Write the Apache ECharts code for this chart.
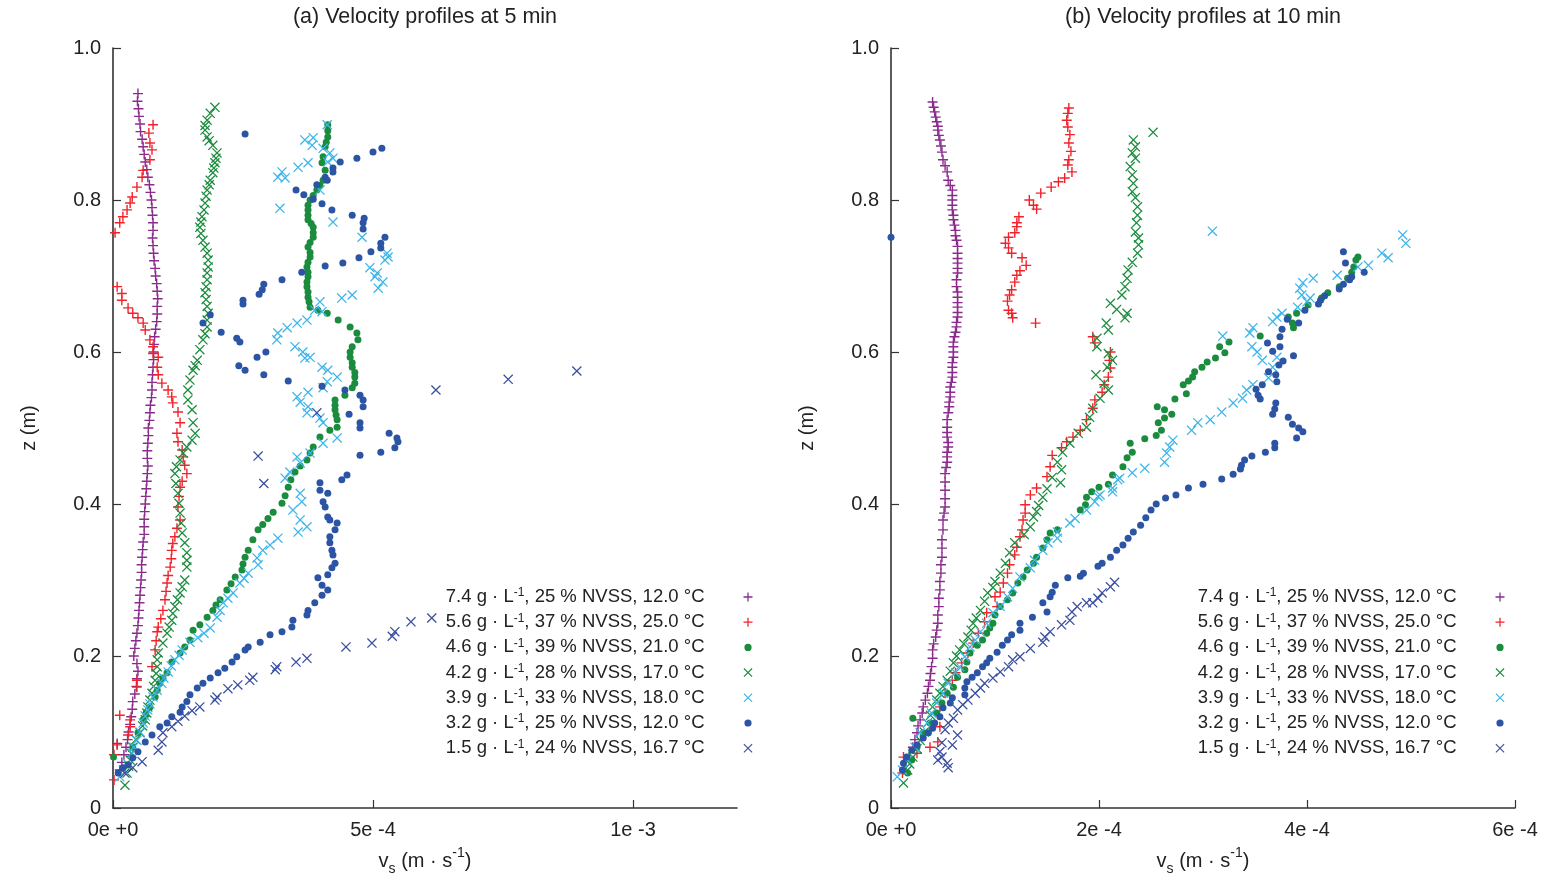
<!DOCTYPE html>
<html><head><meta charset="utf-8">
<script src="https://cdn.jsdelivr.net/npm/echarts@6/dist/echarts.min.js"></script>
<style>html,body{margin:0;padding:0;background:#fff}#c{width:1547px;height:882px}</style>
</head><body><div id="c"></div>
<script>
// x values are in units of 1e-4 m/s, z in m
const seriesNames = [
  '7.4 g · L-1, 25 % NVSS, 12.0 °C',
  '5.6 g · L-1, 37 % NVSS, 25.0 °C',
  '4.6 g · L-1, 39 % NVSS, 21.0 °C',
  '4.2 g · L-1, 28 % NVSS, 17.0 °C',
  '3.9 g · L-1, 33 % NVSS, 18.0 °C',
  '3.2 g · L-1, 25 % NVSS, 12.0 °C',
  '1.5 g · L-1, 24 % NVSS, 16.7 °C'
];
const panelTitles = ['(a) Velocity profiles at 5 min', '(b) Velocity profiles at 10 min'];
const xTicksA = [0, 5, 10];
const xTickLabelsA = ['0e +0', '5e -4', '1e -3'];
const xTicksB = [0, 2, 4, 6];
const xTickLabelsB = ['0e +0', '2e -4', '4e -4', '6e -4'];
const yTicks = [0, 0.2, 0.4, 0.6, 0.8, 1.0];
const yTickLabels = ['0', '0.2', '0.4', '0.6', '0.8', '1.0'];

// ---- Panel (a), 5 min ----
const a74 = [[0.48,0.94],[0.47,0.93],[0.49,0.92],[0.50,0.91],[0.52,0.90],[0.53,0.89],[0.56,0.88],[0.58,0.87],[0.60,0.86],[0.62,0.85],[0.65,0.84],[0.67,0.83],[0.70,0.82],[0.72,0.81],[0.74,0.80],[0.75,0.79],[0.76,0.78],[0.77,0.77],[0.77,0.76],[0.76,0.75],[0.77,0.74],[0.78,0.73],[0.79,0.72],[0.81,0.71],[0.82,0.70],[0.84,0.69],[0.85,0.68],[0.86,0.67],[0.85,0.66],[0.85,0.65],[0.84,0.64],[0.82,0.63],[0.80,0.62],[0.79,0.61],[0.78,0.60],[0.78,0.59],[0.77,0.58],[0.76,0.57],[0.75,0.56],[0.75,0.55],[0.74,0.54],[0.72,0.53],[0.71,0.52],[0.70,0.51],[0.68,0.50],[0.68,0.49],[0.67,0.48],[0.66,0.47],[0.66,0.46],[0.67,0.45],[0.66,0.44],[0.65,0.43],[0.64,0.42],[0.63,0.41],[0.62,0.40],[0.61,0.39],[0.60,0.38],[0.60,0.37],[0.60,0.36],[0.58,0.35],[0.57,0.34],[0.56,0.33],[0.55,0.32],[0.55,0.31],[0.54,0.30],[0.53,0.29],[0.52,0.28],[0.51,0.27],[0.50,0.26],[0.49,0.25],[0.48,0.24],[0.46,0.23],[0.44,0.22],[0.42,0.21],[0.40,0.20],[0.46,0.19],[0.48,0.18],[0.46,0.17],[0.45,0.16],[0.42,0.15],[0.38,0.14],[0.37,0.13],[0.35,0.12],[0.33,0.11],[0.30,0.10],[0.28,0.09],[0.25,0.08],[0.21,0.07],[0.17,0.06],[0.13,0.05],[0.08,0.085]];
const a56 = [[0.77,0.899],[0.69,0.888],[0.71,0.875],[0.75,0.866],[0.71,0.853],[0.58,0.839],[0.56,0.830],[0.46,0.817],[0.37,0.804],[0.33,0.796],[0.27,0.787],[0.19,0.778],[0.13,0.770],[0.04,0.757],[0.08,0.686],[0.17,0.677],[0.17,0.668],[0.29,0.658],[0.38,0.651],[0.48,0.645],[0.58,0.638],[0.62,0.629],[0.71,0.616],[0.77,0.607],[0.77,0.598],[0.87,0.593],[0.85,0.580],[0.87,0.570],[0.94,0.559],[1.06,0.550],[1.13,0.541],[1.15,0.533],[1.25,0.521],[1.29,0.507],[1.23,0.493],[1.25,0.482],[1.33,0.471],[1.35,0.462],[1.38,0.451],[1.42,0.440],[1.33,0.430],[1.29,0.422],[1.27,0.410],[1.25,0.396],[1.29,0.379],[1.23,0.368],[1.19,0.357],[1.15,0.348],[1.13,0.339],[1.12,0.328],[1.10,0.317],[1.06,0.306],[1.04,0.296],[1.02,0.285],[1.00,0.274],[0.96,0.260],[0.92,0.249],[0.87,0.238],[0.85,0.232],[0.83,0.220],[0.81,0.208],[0.75,0.186],[0.46,0.168],[0.46,0.159],[0.13,0.122],[0.33,0.116],[0.33,0.107],[0.29,0.096],[0.08,0.083],[0.02,0.070],[0.02,0.037]];
const a46 = [[4.13,0.899],[4.13,0.891],[4.13,0.883],[4.10,0.876],[4.08,0.870],[4.04,0.857],[4.02,0.849],[4.08,0.839],[4.04,0.826],[3.98,0.819],[3.92,0.813],[3.85,0.806],[3.79,0.800],[3.75,0.793],[3.75,0.787],[3.75,0.780],[3.75,0.774],[3.81,0.769],[3.85,0.764],[3.85,0.757],[3.85,0.751],[3.79,0.744],[3.75,0.738],[3.79,0.731],[3.79,0.725],[3.75,0.718],[3.73,0.712],[3.75,0.705],[3.75,0.699],[3.73,0.692],[3.73,0.686],[3.75,0.679],[3.75,0.672],[3.77,0.666],[3.79,0.659],[3.94,0.655],[4.12,0.651],[4.33,0.642],[4.56,0.633],[4.69,0.625],[4.71,0.616],[4.60,0.607],[4.56,0.600],[4.56,0.593],[4.60,0.586],[4.60,0.580],[4.65,0.573],[4.65,0.567],[4.65,0.559],[4.60,0.553],[4.46,0.543],[4.27,0.537],[4.27,0.530],[4.27,0.524],[4.29,0.517],[4.31,0.511],[4.31,0.501],[4.17,0.497],[3.98,0.488],[3.85,0.475],[3.79,0.467],[3.73,0.458],[3.60,0.450],[3.50,0.442],[3.42,0.432],[3.37,0.422],[3.31,0.411],[3.25,0.401],[3.08,0.389],[2.98,0.381],[2.88,0.373],[2.79,0.366],[2.69,0.353],[2.60,0.339],[2.54,0.330],[2.50,0.321],[2.48,0.313],[2.35,0.304],[2.27,0.295],[2.19,0.287],[2.06,0.274],[1.98,0.267],[1.92,0.260],[1.81,0.251],[1.67,0.241],[1.54,0.234],[1.48,0.221],[1.38,0.212],[1.29,0.204],[1.13,0.192],[1.04,0.178],[0.96,0.171],[0.90,0.164],[0.85,0.155],[0.81,0.146],[0.71,0.133],[0.63,0.124],[0.58,0.116],[0.48,0.099],[0.38,0.080],[0.01,0.067]];
const a42 = [[1.96,0.922],[1.87,0.914],[1.81,0.905],[1.77,0.898],[1.77,0.892],[1.81,0.883],[1.85,0.878],[1.92,0.872],[2.00,0.862],[1.98,0.855],[1.96,0.849],[1.94,0.842],[1.92,0.836],[1.87,0.826],[1.85,0.820],[1.81,0.813],[1.79,0.805],[1.77,0.796],[1.75,0.787],[1.71,0.778],[1.69,0.771],[1.67,0.764],[1.69,0.756],[1.73,0.747],[1.77,0.738],[1.81,0.730],[1.83,0.721],[1.83,0.712],[1.81,0.704],[1.81,0.695],[1.79,0.686],[1.77,0.678],[1.79,0.669],[1.81,0.660],[1.83,0.651],[1.81,0.642],[1.81,0.633],[1.77,0.624],[1.73,0.616],[1.67,0.603],[1.62,0.589],[1.58,0.582],[1.54,0.576],[1.48,0.563],[1.44,0.550],[1.44,0.537],[1.52,0.524],[1.54,0.507],[1.58,0.493],[1.52,0.484],[1.42,0.475],[1.35,0.467],[1.29,0.458],[1.22,0.449],[1.19,0.440],[1.21,0.427],[1.25,0.414],[1.27,0.401],[1.29,0.388],[1.31,0.375],[1.33,0.362],[1.38,0.349],[1.42,0.336],[1.42,0.326],[1.42,0.317],[1.38,0.300],[1.33,0.291],[1.29,0.283],[1.24,0.274],[1.19,0.265],[1.15,0.256],[1.13,0.247],[1.08,0.238],[1.04,0.230],[0.96,0.217],[0.87,0.204],[0.85,0.195],[0.85,0.186],[0.83,0.177],[0.81,0.168],[0.78,0.160],[0.75,0.151],[0.71,0.142],[0.67,0.133],[0.65,0.125],[0.62,0.116],[0.57,0.108],[0.52,0.099],[0.44,0.090],[0.38,0.080],[0.35,0.072],[0.33,0.063],[0.30,0.055],[0.27,0.046],[0.23,0.030]];
const a39 = [[4.12,0.899],[3.69,0.879],[3.85,0.882],[3.83,0.872],[4.04,0.868],[4.17,0.862],[4.23,0.855],[4.13,0.850],[3.75,0.849],[3.56,0.843],[3.25,0.837],[3.17,0.830],[3.31,0.829],[3.98,0.813],[3.21,0.789],[4.23,0.771],[4.79,0.751],[5.27,0.730],[5.29,0.725],[5.23,0.721],[4.94,0.711],[5.08,0.704],[5.04,0.699],[5.19,0.692],[5.10,0.684],[4.60,0.675],[4.40,0.671],[3.98,0.666],[3.88,0.655],[4.02,0.653],[3.73,0.642],[3.54,0.638],[3.35,0.632],[3.17,0.625],[3.15,0.616],[3.50,0.607],[3.65,0.600],[3.79,0.593],[3.69,0.592],[4.02,0.580],[4.13,0.576],[4.31,0.567],[4.12,0.561],[4.04,0.553],[3.75,0.547],[3.54,0.541],[3.60,0.534],[3.75,0.528],[3.73,0.520],[3.98,0.513],[4.04,0.507],[4.31,0.487],[4.04,0.480],[3.79,0.467],[3.54,0.462],[3.60,0.454],[3.40,0.442],[3.31,0.434],[3.60,0.414],[3.63,0.403],[3.46,0.392],[3.60,0.379],[3.73,0.370],[3.56,0.363],[3.17,0.355],[3.02,0.346],[2.88,0.339],[2.77,0.329],[2.79,0.320],[2.60,0.309],[2.52,0.302],[2.44,0.296],[2.31,0.283],[2.21,0.276],[2.12,0.270],[2.06,0.260],[2.00,0.251],[1.87,0.237],[1.75,0.230],[1.63,0.224],[1.48,0.218],[1.33,0.208],[1.27,0.201],[1.19,0.195],[1.12,0.187],[1.06,0.179],[0.98,0.171],[0.94,0.164],[0.85,0.155],[0.77,0.146],[0.71,0.137],[0.67,0.129],[0.62,0.121],[0.58,0.112],[0.52,0.100],[0.46,0.089],[0.40,0.080],[0.37,0.072],[0.27,0.059],[0.20,0.050],[0.13,0.041]];
const a32 = [[2.54,0.887],[5.17,0.868],[5.00,0.863],[4.69,0.855],[4.37,0.850],[4.23,0.842],[4.23,0.837],[4.08,0.830],[4.12,0.826],[3.92,0.820],[3.52,0.813],[3.67,0.807],[3.85,0.801],[4.02,0.795],[4.21,0.787],[4.60,0.780],[4.83,0.776],[4.81,0.770],[4.81,0.762],[5.23,0.751],[5.15,0.743],[5.15,0.737],[4.96,0.732],[4.73,0.724],[4.42,0.717],[4.08,0.713],[3.63,0.705],[3.25,0.695],[2.90,0.689],[2.87,0.682],[2.81,0.676],[2.50,0.668],[2.50,0.663],[1.87,0.649],[1.73,0.638],[2.08,0.626],[2.38,0.618],[2.44,0.613],[2.94,0.600],[2.77,0.593],[2.42,0.582],[2.54,0.576],[2.90,0.570],[3.37,0.562],[4.02,0.555],[4.46,0.550],[4.75,0.543],[4.81,0.537],[4.81,0.528],[4.54,0.518],[4.75,0.507],[4.75,0.500],[5.31,0.493],[5.46,0.487],[5.48,0.482],[5.42,0.474],[5.15,0.468],[4.75,0.464],[4.50,0.438],[4.40,0.432],[3.98,0.428],[3.98,0.418],[4.13,0.414],[4.04,0.403],[4.08,0.396],[4.13,0.383],[4.17,0.379],[4.31,0.375],[4.27,0.366],[4.17,0.357],[4.17,0.349],[4.21,0.339],[4.23,0.333],[4.27,0.322],[4.21,0.316],[4.13,0.307],[3.94,0.303],[4.02,0.293],[4.13,0.287],[4.02,0.280],[3.88,0.270],[3.75,0.260],[3.73,0.254],[3.46,0.247],[3.44,0.238],[3.25,0.232],[3.02,0.228],[2.83,0.218],[2.60,0.212],[2.54,0.208],[2.38,0.199],[2.29,0.192],[2.15,0.184],[2.02,0.178],[1.87,0.171],[1.73,0.164],[1.62,0.158],[1.48,0.149],[1.42,0.140],[1.33,0.133],[1.29,0.126],[1.13,0.120],[1.04,0.112],[0.90,0.107],[0.75,0.096],[0.62,0.087],[0.48,0.074],[0.38,0.066],[0.29,0.057],[0.19,0.053],[0.10,0.046]];
const a15 = [[8.92,0.575],[7.60,0.564],[6.21,0.550],[3.92,0.520],[2.79,0.463],[2.90,0.427],[6.13,0.250],[5.73,0.245],[5.42,0.232],[5.37,0.226],[4.98,0.217],[4.48,0.212],[3.73,0.197],[3.52,0.192],[3.15,0.186],[3.12,0.182],[2.69,0.172],[2.63,0.168],[2.40,0.162],[2.21,0.157],[2.00,0.146],[1.96,0.142],[1.67,0.133],[1.52,0.128],[1.38,0.121],[1.25,0.114],[1.13,0.107],[0.96,0.099],[0.94,0.087],[0.87,0.076],[0.56,0.061],[0.38,0.053],[0.23,0.046]];

// ---- Panel (b), 10 min ----
const b74 = [[0.40,0.929],[0.41,0.922],[0.42,0.916],[0.43,0.909],[0.44,0.903],[0.45,0.897],[0.45,0.892],[0.46,0.885],[0.47,0.879],[0.48,0.871],[0.49,0.863],[0.50,0.853],[0.52,0.845],[0.54,0.837],[0.55,0.826],[0.57,0.819],[0.59,0.813],[0.59,0.806],[0.59,0.800],[0.59,0.793],[0.59,0.787],[0.60,0.780],[0.60,0.774],[0.61,0.767],[0.62,0.760],[0.62,0.753],[0.63,0.747],[0.64,0.739],[0.64,0.730],[0.64,0.723],[0.64,0.717],[0.64,0.710],[0.64,0.704],[0.63,0.695],[0.63,0.686],[0.64,0.679],[0.64,0.672],[0.64,0.665],[0.64,0.659],[0.64,0.652],[0.64,0.646],[0.63,0.639],[0.63,0.633],[0.62,0.626],[0.61,0.620],[0.60,0.613],[0.60,0.607],[0.60,0.600],[0.60,0.593],[0.59,0.586],[0.59,0.580],[0.59,0.573],[0.59,0.567],[0.58,0.560],[0.57,0.554],[0.57,0.547],[0.57,0.541],[0.56,0.534],[0.56,0.528],[0.55,0.520],[0.54,0.511],[0.54,0.501],[0.54,0.494],[0.54,0.488],[0.55,0.481],[0.55,0.475],[0.54,0.468],[0.54,0.462],[0.54,0.455],[0.53,0.448],[0.52,0.440],[0.52,0.429],[0.52,0.418],[0.52,0.407],[0.52,0.396],[0.51,0.388],[0.50,0.379],[0.50,0.366],[0.49,0.353],[0.49,0.342],[0.49,0.330],[0.48,0.320],[0.48,0.309],[0.47,0.298],[0.47,0.287],[0.46,0.276],[0.46,0.265],[0.45,0.254],[0.45,0.243],[0.44,0.234],[0.43,0.225],[0.41,0.216],[0.40,0.208],[0.40,0.197],[0.39,0.186],[0.38,0.177],[0.375,0.168],[0.36,0.160],[0.35,0.151],[0.33,0.142],[0.31,0.133],[0.30,0.125],[0.28,0.116],[0.26,0.108],[0.25,0.099],[0.23,0.090],[0.21,0.080],[0.18,0.067]];
const b56 = [[1.71,0.921],[1.70,0.914],[1.69,0.905],[1.70,0.896],[1.72,0.886],[1.71,0.875],[1.73,0.864],[1.71,0.853],[1.70,0.846],[1.74,0.837],[1.67,0.829],[1.61,0.824],[1.54,0.817],[1.44,0.809],[1.33,0.800],[1.37,0.793],[1.40,0.788],[1.23,0.778],[1.21,0.770],[1.21,0.765],[1.19,0.757],[1.13,0.751],[1.10,0.743],[1.13,0.737],[1.16,0.730],[1.26,0.724],[1.30,0.714],[1.24,0.707],[1.21,0.701],[1.19,0.692],[1.16,0.682],[1.14,0.675],[1.12,0.667],[1.13,0.655],[1.16,0.651],[1.17,0.645],[1.39,0.638],[1.94,0.620],[1.96,0.612],[2.11,0.600],[2.10,0.589],[2.11,0.579],[2.09,0.567],[2.05,0.557],[2.03,0.547],[1.96,0.537],[1.94,0.526],[1.88,0.511],[1.82,0.497],[1.75,0.488],[1.69,0.482],[1.64,0.474],[1.55,0.464],[1.53,0.449],[1.50,0.436],[1.40,0.421],[1.34,0.412],[1.29,0.399],[1.29,0.388],[1.27,0.379],[1.26,0.366],[1.24,0.357],[1.21,0.343],[1.19,0.333],[1.14,0.320],[1.12,0.309],[1.08,0.296],[1.05,0.284],[1.00,0.278],[1.02,0.265],[0.92,0.257],[0.90,0.245],[0.84,0.230],[0.79,0.217],[0.74,0.204],[0.68,0.191],[0.62,0.178],[0.59,0.168],[0.52,0.151],[0.47,0.133],[0.47,0.107],[0.45,0.087],[0.375,0.080],[0.25,0.072],[0.12,0.067],[0.11,0.046]];
const b46 = [[4.49,0.725],[4.47,0.721],[4.45,0.712],[4.43,0.705],[4.39,0.697],[4.31,0.686],[4.20,0.678],[4.14,0.671],[4.01,0.662],[3.90,0.651],[3.82,0.646],[3.86,0.638],[3.87,0.632],[3.55,0.621],[3.25,0.613],[3.16,0.607],[3.21,0.599],[3.12,0.592],[3.04,0.587],[2.99,0.580],[2.92,0.574],[2.90,0.567],[2.86,0.562],[2.81,0.557],[2.84,0.545],[2.73,0.538],[2.56,0.528],[2.63,0.524],[2.70,0.518],[2.63,0.513],[2.57,0.507],[2.60,0.497],[2.55,0.490],[2.44,0.486],[2.30,0.480],[2.32,0.468],[2.27,0.461],[2.23,0.449],[2.13,0.438],[2.09,0.426],[2.00,0.422],[1.93,0.416],[1.88,0.409],[1.87,0.399],[1.82,0.392],[1.60,0.366],[1.53,0.362],[1.50,0.353],[1.46,0.342],[1.40,0.330],[1.37,0.322],[1.31,0.313],[1.27,0.304],[1.22,0.296],[1.17,0.283],[1.12,0.274],[1.05,0.265],[1.00,0.254],[0.98,0.243],[0.95,0.237],[0.92,0.230],[0.88,0.221],[0.83,0.214],[0.76,0.204],[0.73,0.192],[0.71,0.182],[0.64,0.172],[0.60,0.159],[0.54,0.151],[0.49,0.138],[0.44,0.125],[0.375,0.112],[0.31,0.099],[0.21,0.118],[0.25,0.080],[0.20,0.063],[0.16,0.046]];
const b42 = [[2.52,0.889],[2.33,0.879],[2.35,0.870],[2.32,0.862],[2.35,0.855],[2.30,0.844],[2.32,0.833],[2.33,0.822],[2.32,0.811],[2.35,0.803],[2.37,0.791],[2.37,0.780],[2.36,0.770],[2.35,0.758],[2.38,0.750],[2.38,0.741],[2.37,0.730],[2.32,0.718],[2.28,0.708],[2.27,0.697],[2.25,0.686],[2.22,0.675],[2.11,0.664],[2.17,0.656],[2.27,0.651],[2.25,0.645],[2.07,0.638],[2.09,0.629],[1.98,0.618],[1.98,0.607],[2.09,0.598],[2.13,0.589],[2.08,0.580],[1.97,0.570],[2.05,0.559],[2.09,0.550],[2.01,0.539],[1.94,0.526],[1.91,0.514],[1.88,0.501],[1.80,0.493],[1.72,0.480],[1.65,0.468],[1.60,0.455],[1.64,0.445],[1.55,0.435],[1.63,0.428],[1.50,0.420],[1.46,0.409],[1.42,0.398],[1.40,0.390],[1.37,0.383],[1.34,0.370],[1.28,0.360],[1.19,0.349],[1.14,0.336],[1.10,0.322],[1.05,0.309],[1.00,0.298],[0.98,0.290],[0.93,0.283],[0.90,0.272],[0.86,0.260],[0.82,0.250],[0.79,0.243],[0.77,0.234],[0.74,0.225],[0.70,0.216],[0.66,0.208],[0.63,0.200],[0.60,0.191],[0.57,0.180],[0.54,0.168],[0.50,0.160],[0.47,0.151],[0.44,0.142],[0.40,0.133],[0.38,0.122],[0.35,0.112],[0.32,0.100],[0.28,0.089],[0.25,0.078],[0.21,0.067],[0.18,0.058],[0.16,0.050],[0.12,0.033]];
const b39 = [[3.09,0.759],[4.92,0.754],[4.95,0.743],[4.72,0.730],[4.78,0.724],[4.59,0.714],[4.49,0.712],[4.29,0.701],[4.06,0.697],[3.96,0.691],[3.93,0.684],[3.95,0.675],[4.03,0.671],[4.00,0.666],[3.91,0.659],[3.76,0.651],[3.71,0.646],[3.67,0.640],[3.48,0.632],[3.45,0.625],[3.19,0.621],[3.47,0.607],[3.52,0.600],[3.71,0.593],[3.57,0.589],[3.67,0.580],[3.63,0.566],[3.48,0.557],[3.42,0.550],[3.38,0.539],[3.29,0.533],[3.18,0.521],[3.07,0.511],[2.95,0.507],[2.89,0.497],[2.71,0.484],[2.68,0.475],[2.65,0.467],[2.63,0.455],[2.44,0.447],[2.32,0.441],[2.20,0.434],[2.18,0.432],[2.13,0.421],[2.13,0.416],[2.01,0.412],[1.99,0.410],[1.96,0.403],[1.88,0.392],[1.77,0.381],[1.72,0.375],[1.60,0.363],[1.60,0.355],[1.51,0.349],[1.46,0.339],[1.38,0.326],[1.34,0.316],[1.24,0.304],[1.17,0.289],[1.12,0.278],[1.05,0.265],[0.98,0.257],[0.92,0.243],[0.86,0.232],[0.81,0.221],[0.76,0.212],[0.71,0.199],[0.66,0.186],[0.62,0.178],[0.55,0.164],[0.50,0.151],[0.44,0.138],[0.39,0.125],[0.35,0.112],[0.28,0.099],[0.23,0.080],[0.16,0.063],[0.11,0.050],[0.06,0.041]];
const b32 = [[0.00,0.751],[4.35,0.732],[4.37,0.717],[4.55,0.705],[4.43,0.699],[4.41,0.695],[4.35,0.689],[4.31,0.683],[4.17,0.674],[4.13,0.668],[4.11,0.663],[3.98,0.655],[3.81,0.643],[3.92,0.638],[3.76,0.630],[3.74,0.620],[3.62,0.612],[3.74,0.607],[3.67,0.601],[3.87,0.595],[3.77,0.588],[3.73,0.583],[3.63,0.574],[3.70,0.570],[3.71,0.561],[3.57,0.557],[3.51,0.551],[3.53,0.543],[3.55,0.538],[3.70,0.533],[3.69,0.525],[3.67,0.518],[3.82,0.514],[3.86,0.505],[3.92,0.500],[3.96,0.495],[3.90,0.487],[3.69,0.480],[3.69,0.474],[3.60,0.468],[3.47,0.463],[3.40,0.458],[3.37,0.451],[3.36,0.446],[3.29,0.439],[3.18,0.433],[3.00,0.426],[2.86,0.421],[2.74,0.412],[2.64,0.408],[2.55,0.400],[2.50,0.392],[2.45,0.382],[2.40,0.372],[2.33,0.363],[2.28,0.355],[2.23,0.346],[2.17,0.339],[2.11,0.330],[2.03,0.322],[1.99,0.318],[1.85,0.309],[1.82,0.305],[1.70,0.303],[1.58,0.293],[1.55,0.284],[1.53,0.278],[1.46,0.270],[1.50,0.258],[1.36,0.251],[1.24,0.243],[1.24,0.234],[1.16,0.228],[1.12,0.221],[1.07,0.214],[1.02,0.205],[0.95,0.197],[0.92,0.191],[0.88,0.186],[0.83,0.178],[0.78,0.172],[0.73,0.166],[0.71,0.158],[0.71,0.149],[0.59,0.145],[0.57,0.138],[0.50,0.132],[0.47,0.120],[0.42,0.112],[0.40,0.105],[0.36,0.099],[0.31,0.092],[0.25,0.083],[0.20,0.076],[0.15,0.067],[0.12,0.059],[0.11,0.050]];
const b15 = [[2.15,0.297],[2.11,0.291],[2.03,0.283],[1.99,0.276],[1.94,0.270],[1.88,0.270],[1.79,0.265],[1.74,0.258],[1.72,0.247],[1.64,0.241],[1.53,0.232],[1.48,0.225],[1.46,0.218],[1.34,0.210],[1.24,0.199],[1.17,0.195],[1.13,0.186],[1.05,0.179],[0.98,0.171],[0.90,0.164],[0.86,0.158],[0.81,0.151],[0.74,0.142],[0.69,0.136],[0.64,0.129],[0.60,0.118],[0.55,0.112],[0.52,0.103],[0.64,0.096],[0.59,0.083],[0.49,0.086],[0.47,0.074],[0.49,0.067],[0.45,0.063],[0.54,0.059],[0.55,0.053]];

const panelA = [a74, a56, a46, a42, a39, a32, a15];
const panelB = [b74, b56, b46, b42, b39, b32, b15];

const colors = ['#8a2b8d', '#f0232b', '#1b8c3e', '#1b8c3e', '#3db5ea', '#2c54a4', '#3a4f9f'];
const PLUS = 'path://M43,0H57V43H100V57H57V100H43V57H0V43H43Z';
const CROSS = 'path://M0,9L9,0L100,91L91,100Z M91,0L100,9L9,100L0,91Z';
// legend-only dot: a circle inside a 10x10 box (tiny corner specks fix the box)
const LEGEND_DOT = 'path://M0,0h0.05v0.05h-0.05Z M9.95,9.95h0.05v0.05h-0.05Z M5,1A4,4 0 1 1 4.999,1Z';
const symbols = [PLUS, PLUS, 'circle', CROSS, CROSS, 'circle', CROSS];
const sizes = [10, 10, 7, 10, 10, 7, 10];

const FONT = 'Liberation Sans, Arial, Helvetica, sans-serif';
const TXT = '#222';

const chart = echarts.init(document.getElementById('c'), null, {renderer: 'canvas'});

function makeXAxis(grid, max, ticks, labels) {
  return {
    gridIndex: grid, type: 'value', min: 0, max: max,
    axisLine: {show: true, onZero: false, lineStyle: {color: '#333', width: 1.6}},
    axisTick: {show: true, inside: true, length: 8, customValues: ticks, lineStyle: {color: '#333', width: 1.2}},
    axisLabel: {customValues: ticks, formatter: v => labels[ticks.indexOf(v)] ?? '', color: TXT, fontSize: 20, fontFamily: FONT, margin: 12},
    splitLine: {show: false},
    name: '{n|v}{sub|s}{n| (m · s}{sup|-1}{n|)}',
    nameLocation: 'middle', nameGap: 38,
    nameTextStyle: {
      color: TXT, fontFamily: FONT, fontSize: 20,
      rich: {
        n: {fontSize: 20, fontFamily: FONT, color: TXT, lineHeight: 30},
        sub: {fontSize: 14, fontFamily: FONT, color: TXT, lineHeight: 14, verticalAlign: 'bottom'},
        sup: {fontSize: 14, fontFamily: FONT, color: TXT, lineHeight: 16, verticalAlign: 'top'}
      }
    }
  };
}
function makeYAxis(grid) {
  return {
    gridIndex: grid, type: 'value', min: 0, max: 1,
    axisLine: {show: true, onZero: false, lineStyle: {color: '#333', width: 1.6}},
    axisTick: {show: true, inside: true, length: 8, customValues: yTicks, lineStyle: {color: '#333', width: 1.2}},
    axisLabel: {customValues: yTicks, formatter: v => yTickLabels[yTicks.findIndex(t => Math.abs(t - v) < 1e-9)] ?? '', color: TXT, fontSize: 20, fontFamily: FONT, margin: 12},
    splitLine: {show: false},
    name: 'z (m)', nameLocation: 'middle', nameGap: 74, nameRotate: 90,
    nameTextStyle: {color: TXT, fontFamily: FONT, fontSize: 20}
  };
}

const series = [];
[panelA, panelB].forEach((sets, p) => {
  sets.forEach((d, i) => {
    series.push({
      type: 'scatter', name: seriesNames[i], xAxisIndex: p, yAxisIndex: p,
      data: d, symbol: symbols[i], symbolSize: sizes[i],
      itemStyle: {color: colors[i], opacity: 1},
      emphasis: {disabled: true}, silent: true, animation: false
    });
  });
});

function legendFor(rightPx) {
  return {
    data: seriesNames.map((n, i) => symbols[i] === 'circle' ? {name: n, icon: LEGEND_DOT} : {name: n}),
    orient: 'vertical', right: rightPx, top: 587, align: 'right',
    padding: 0, itemWidth: 9, itemHeight: 9, itemGap: 5.2, selectedMode: false,
    formatter: n => n.replace('L-1', 'L{sup|-1}'),
    textStyle: {
      color: TXT, fontSize: 18.5, fontFamily: FONT, lineHeight: 20, padding: [0, 34, 0, 0],
      rich: {sup: {fontSize: 12, fontFamily: FONT, color: TXT, lineHeight: 12, verticalAlign: 'top'}}
    }
  };
}

chart.setOption({
  animation: false,
  backgroundColor: '#fff',
  grid: [
    {left: 113, top: 48, width: 624, height: 760, containLabel: false},
    {left: 891, top: 48, width: 624, height: 760, containLabel: false}
  ],
  xAxis: [makeXAxis(0, 12, xTicksA, xTickLabelsA), makeXAxis(1, 6, xTicksB, xTickLabelsB)],
  yAxis: [makeYAxis(0), makeYAxis(1)],
  legend: [legendFor(794.5), legendFor(42.5)],
  graphic: [
    {type: 'text', x: 425, y: 17, style: {text: panelTitles[0], fill: TXT, font: '21.5px ' + FONT, align: 'center', verticalAlign: 'middle'}},
    {type: 'text', x: 1203, y: 17, style: {text: panelTitles[1], fill: TXT, font: '21.5px ' + FONT, align: 'center', verticalAlign: 'middle'}}
  ],
  series: series
});
</script></body></html>
